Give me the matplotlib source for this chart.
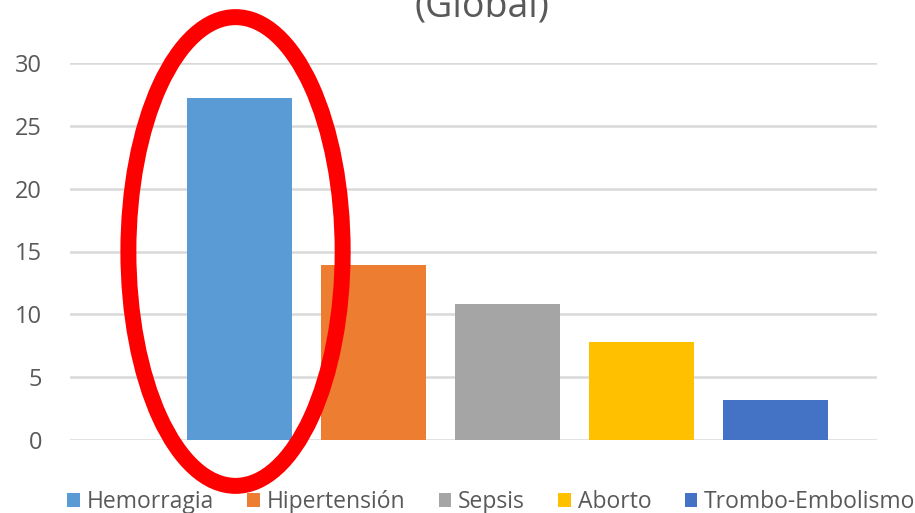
import matplotlib
matplotlib.use("Agg")
import matplotlib.pyplot as plt
from matplotlib.patches import Ellipse, Patch

categories = ["Hemorragia", "Hipertensión", "Sepsis", "Aborto", "Trombo-Embolismo"]
values = [27.2, 13.9, 10.8, 7.8, 3.2]
colors = ["#5B9BD5", "#ED7D31", "#A5A5A5", "#FFC000", "#4472C4"]
yticks = [0, 5, 10, 15, 20, 25, 30]
title = "(Global)"

plt.rcParams["font.family"] = ["Open Sans", "DejaVu Sans"]
text_color = "#595959"

fig = plt.figure(figsize=(9.15, 5.13), dpi=100)
# axes box in figure pixels: x 70..877, y 63..440 (from top)
ax = fig.add_axes([70 / 915, 1 - 440 / 513, 807 / 915, 377 / 513])

positions = list(range(len(categories)))
ax.bar(positions, values, width=0.785, color=colors, zorder=2)

ax.set_xlim(-1.266, 4.76)
ax.set_ylim(0, 30)
ax.set_yticks(yticks)
ax.set_xticks([])
ax.tick_params(axis="y", length=0, labelsize=17, labelcolor=text_color, pad=20)
ax.grid(axis="y", color="#D9D9D9", linewidth=1.8, zorder=0)
for spine in ax.spines.values():
    spine.set_visible(False)

# red highlight ring around the first bar
ring = Ellipse((-0.03, 15.0), width=1.6, height=37.3, fill=False,
               edgecolor="#FF0000", linewidth=11.5, clip_on=False, zorder=5)
ax.add_patch(ring)

# title is partly cut by the top edge, as in the source screenshot
fig.text(0.527, 1 - 17 / 513, title, ha="center", va="baseline", fontsize=27, color=text_color)

handles = [Patch(facecolor=c, edgecolor="none") for c in colors]
fig.legend(handles, categories, loc="center", bbox_to_anchor=(0.537, 0.022), ncol=5,
           frameon=False, fontsize=16.5, labelcolor=text_color,
           handlelength=0.55, handleheight=0.55, handletextpad=0.3, columnspacing=1.45)

fig.savefig("out.png", dpi=100)
